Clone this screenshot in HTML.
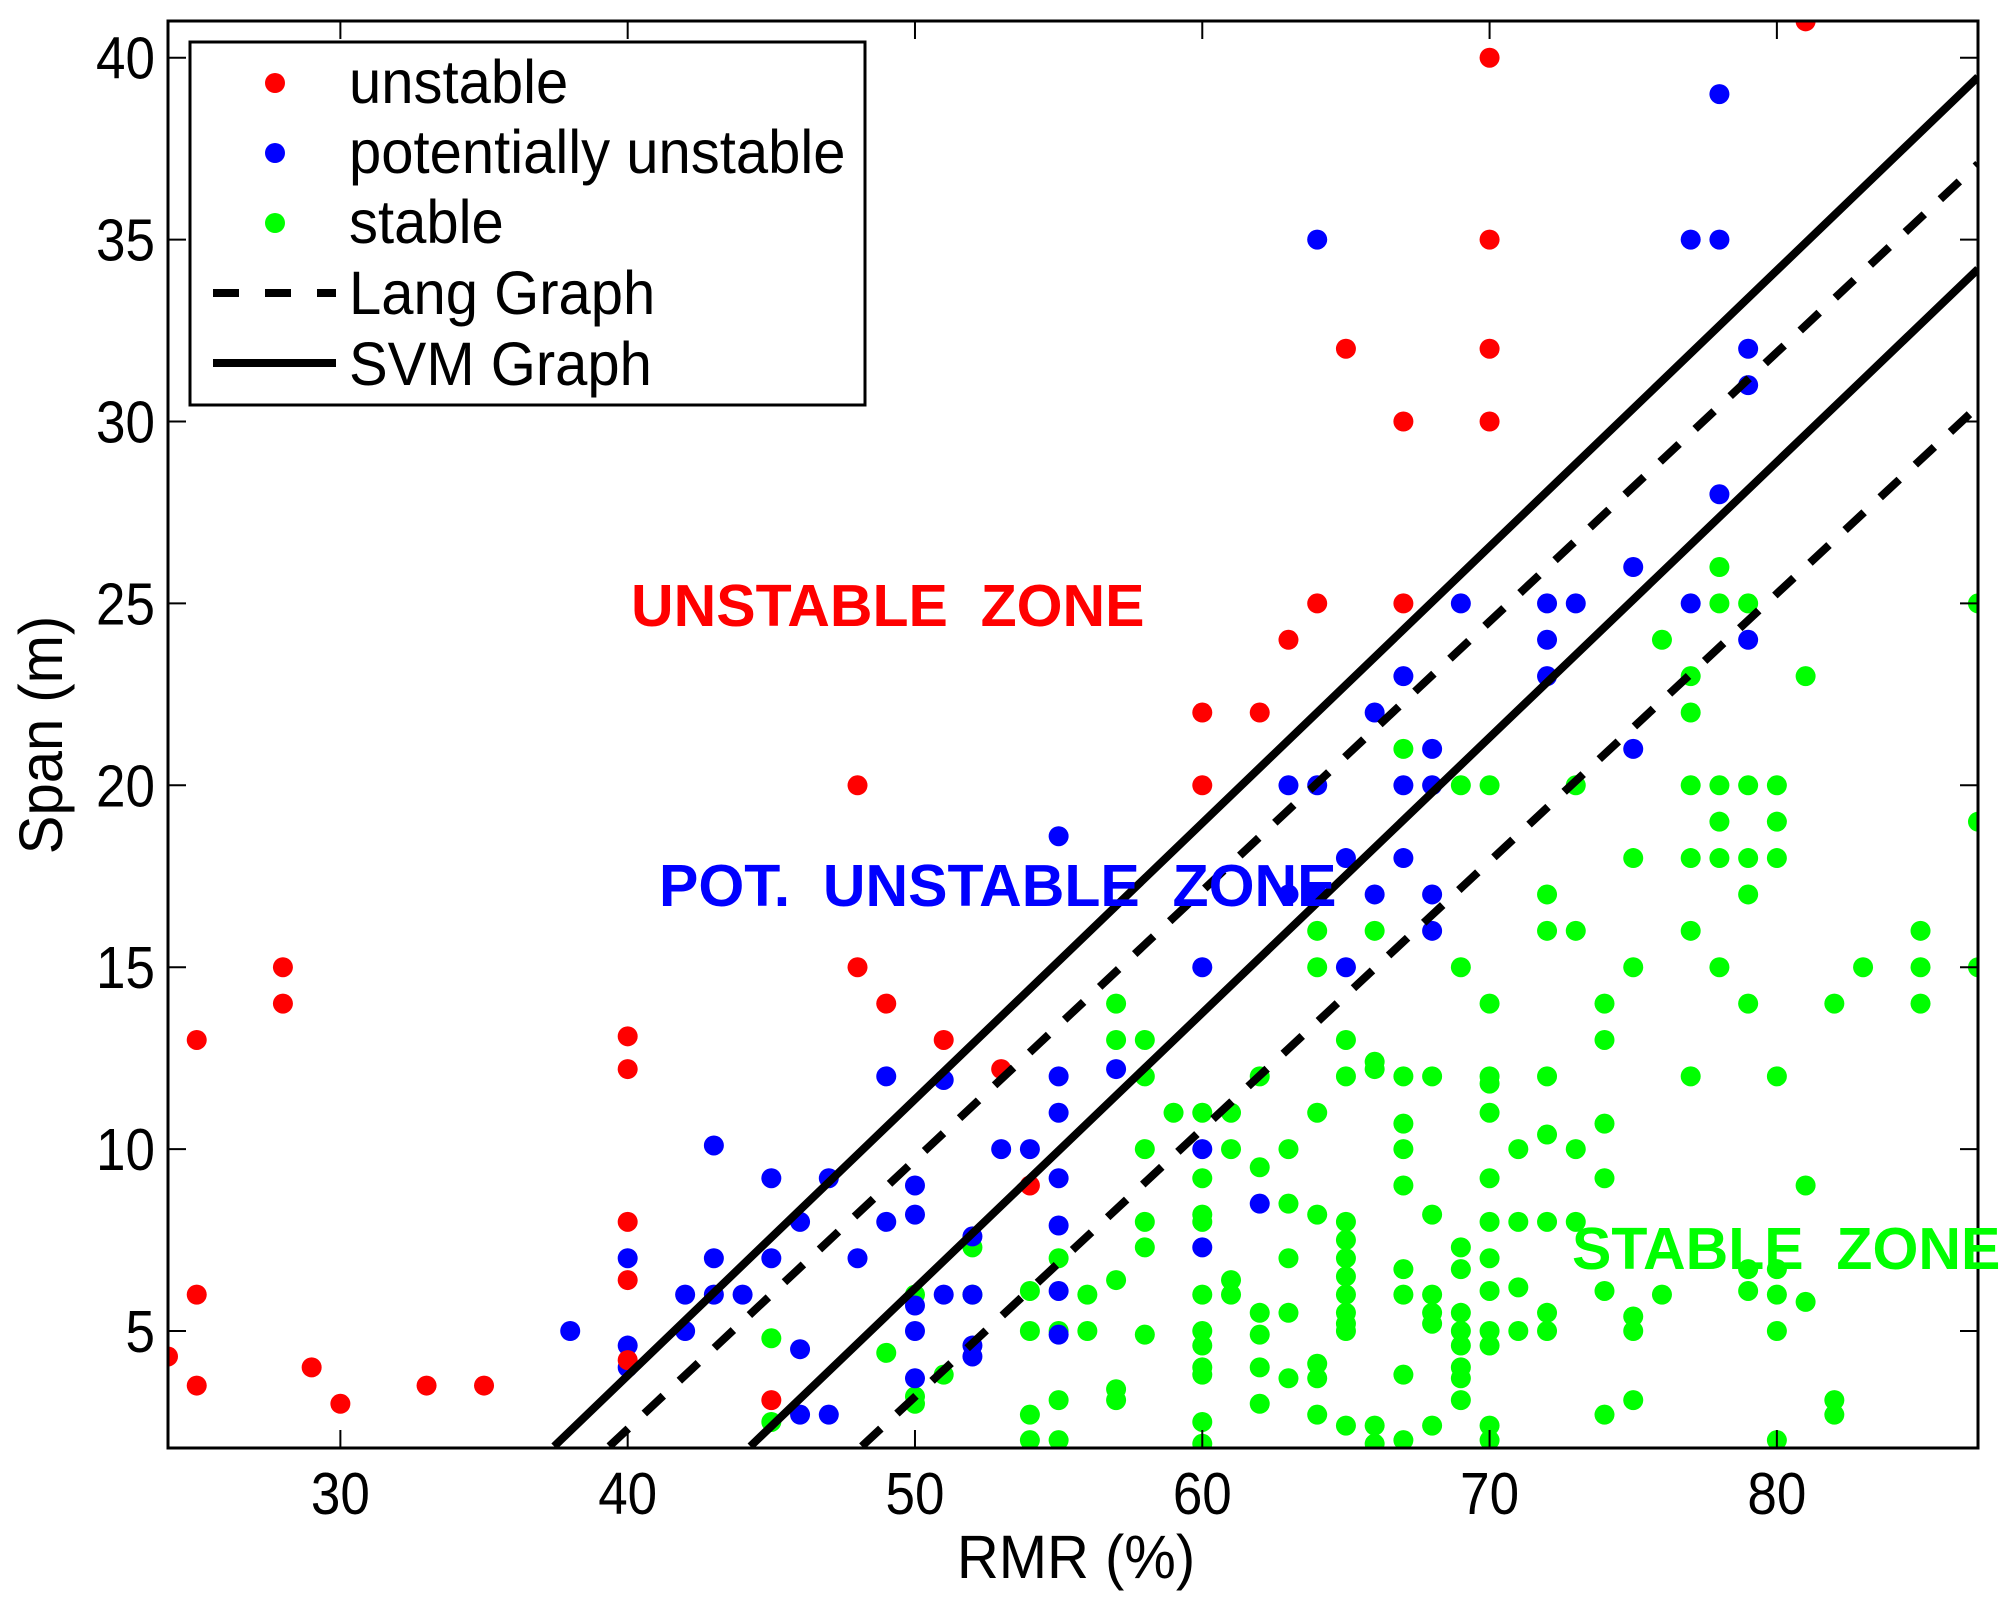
<!DOCTYPE html>
<html><head><meta charset="utf-8"><style>
html,body{margin:0;padding:0;background:#fff;}
svg{display:block;font-family:"Liberation Sans",Arial,sans-serif;}
</style></head><body>
<svg id="chart" width="2011" height="1604" viewBox="0 0 2011 1604" xmlns="http://www.w3.org/2000/svg">
<defs><clipPath id="plotclip"><rect x="168" y="21" width="1810" height="1427"/></clipPath></defs>
<g id="marks" clip-path="url(#plotclip)"></g>
<g id="axes"></g>
<text x="631" y="626" font-size="59" font-weight="bold" fill="#ff0000">UNSTABLE&#160; ZONE</text>
<text x="659" y="906" font-size="59" font-weight="bold" fill="#0000ff">POT.&#160; UNSTABLE&#160; ZONE</text>
<text x="1572" y="1269" font-size="59" font-weight="bold" fill="#00ff00">STABLE&#160; ZONE</text>
<text x="0" y="0" font-size="58" text-anchor="middle" transform="translate(1076,1578) scale(1,1.06)">RMR (%)</text>
<text x="0" y="0" font-size="58" text-anchor="middle" transform="translate(62,735) rotate(-90) scale(1,1.06)">Span (m)</text>
<g>
<rect x="190" y="42" width="675" height="363" fill="#fff" stroke="#000" stroke-width="3"/>
<circle cx="275" cy="83" r="10" fill="#ff0000"/><text x="0" y="0" font-size="58" transform="translate(349,103) scale(1,1.05)">unstable</text>
<circle cx="275" cy="153" r="10" fill="#0000ff"/><text x="0" y="0" font-size="58" transform="translate(349,173) scale(1,1.05)">potentially unstable</text>
<circle cx="275" cy="223" r="10" fill="#00ff00"/><text x="0" y="0" font-size="58" transform="translate(349,243) scale(1,1.05)">stable</text>
<line x1="213" y1="293" x2="336" y2="293" stroke="#000" stroke-width="8" stroke-dasharray="26,26"/><text x="0" y="0" font-size="58" transform="translate(349,314) scale(1,1.05)">Lang Graph</text>
<line x1="213" y1="363" x2="336" y2="363" stroke="#000" stroke-width="8"/><text x="0" y="0" font-size="58" transform="translate(349,385) scale(1,1.05)">SVM Graph</text>
</g>
</svg>
<script>
const xTicks=[30,40,50,60,70,80];
const yTicks=[5,10,15,20,25,30,35,40];
const unstableX=[24,25,25,25,28,28,29,30,33,35,40,40,40,40,40,45,48,48,49,51,53,54,60,60,62,63,64,65,67,67,70,70,70,70,81];
const unstableY=[4.3,13,6,3.5,15,14,4,3,3.5,3.5,13.1,12.2,8,6.4,4.2,3.1,20,15,14,13,12.2,9,22,20,22,24,25,32,30,25,40,35,32,30,41];
const potX=[38,40,40,40,42,42,43,43,43,44,45,45,46,46,46,47,47,48,49,49,50,50,50,50,50,51,51,52,52,52,52,53,54,55,55,55,55,55,55,55,57,60,60,60,62,63,63,64,64,64,65,65,66,66,67,67,67,68,68,68,68,69,72,72,72,73,75,75,77,77,78,78,78,79,79,79];
const potY=[5,7,4.6,4,6,5,10.1,7,6,6,9.2,7,8,4.5,2.7,9.2,2.7,7,12,8,9,8.2,5.7,5,3.7,11.9,6,7.6,6,4.6,4.3,10,10,18.6,12,11,9.2,7.9,6.1,4.9,12.2,15,10,7.3,8.5,20,17,35,20,17,18,15,22,17,23,20,18,21,20,17,16,25,25,24,23,25,26,21,35,25,39,35,28,32,31,24];
const stableX=[45,45,49,50,50,50,51,52,52,54,54,54,54,55,55,55,55,56,56,57,57,57,57,57,58,58,58,58,58,58,59,60,60,60,60,60,60,60,60,60,60,60,61,61,61,61,62,62,62,62,62,62,63,63,63,63,63,64,64,64,64,64,64,64,65,65,65,65,65,65,65,65,65,65,65,66,66,66,66,66,67,67,67,67,67,67,67,67,67,68,68,68,68,68,68,69,69,69,69,69,69,69,69,69,69,70,70,70,70,70,70,70,70,70,70,70,70,70,71,71,71,71,72,72,72,72,72,72,72,73,73,73,73,74,74,74,74,74,74,75,75,75,75,75,76,76,77,77,77,77,77,77,78,78,78,78,78,78,79,79,79,79,79,79,79,80,80,80,80,80,80,80,80,81,81,81,82,82,82,83,85,85,85,87,87,87];
const stableY=[4.8,2.5,4.4,6,3.2,3,3.8,7.3,6,6.1,5,2.7,2,7,5,3.1,2,6,5,14,13,6.4,3.4,3.1,13,12,10,8,7.3,4.9,11,11,9.2,8.2,8,6,5,4.6,4,3.8,2.5,1.9,11,10,6.4,6,12,9.5,5.5,4.9,4,3,10,8.5,7,5.5,3.7,16,15,11,8.2,4.1,3.7,2.7,13,12,8,7.5,7,6.5,6,5.5,5.2,5,2.4,16,12.4,12.2,2.4,1.9,21,12,10.7,10,9,6.7,6,3.8,2,12,8.2,6,5.5,5.2,2.4,20,15,7.3,6.7,5.5,5,4.6,4,3.7,3.1,20,14,12,11.8,11,9.2,8,7,6.1,5,4.6,2.4,2,10,8,6.2,5,17,16,12,10.4,8,5.5,5,20,16,10,8,14,13,10.7,9.2,6.1,2.7,18,15,5.4,5,3.1,24,6,23,22,20,18,16,12,26,25,20,19,18,15,25,20,18,17,14,6.7,6.1,20,19,18,12,6.7,6,5,2,23,9,5.8,14,3.1,2.7,15,16,15,14,25,19,15];
const svmX=[[37.44,87],[44.27,87]];
const svmY=[[1.83,39.47],[1.83,34.19]];
const langX=[[39.36,87],[48.15,87]];
const langY=[[1.83,37.08],[1.83,30.42]];

const NS="http://www.w3.org/2000/svg";
const X=v=>168+(v-24)*28.73;
const Y=v=>57.7+(40-v)*36.38;
const marks=document.getElementById('marks');
const axes=document.getElementById('axes');
function mk(tag,attrs,parent){const e=document.createElementNS(NS,tag);for(const k in attrs)e.setAttribute(k,attrs[k]);parent.appendChild(e);return e;}
function dots(xs,ys,color,name){for(let i=0;i<xs.length;i++){const c=mk('circle',{cx:X(xs[i]),cy:Y(ys[i]),r:10,fill:color},marks);

}}
dots(stableX,stableY,'#00ff00','stable-point');
dots(potX,potY,'#0000ff','potentially-unstable-point');
dots(unstableX,unstableY,'#ff0000','unstable-point');
for(let i=0;i<langX.length;i++){const l=mk('line',{x1:X(langX[i][0]),y1:Y(langY[i][0]),x2:X(langX[i][1]),y2:Y(langY[i][1]),stroke:'#000','stroke-width':8,'stroke-dasharray':'26,22'},marks);

}
for(let i=0;i<svmX.length;i++){const l=mk('line',{x1:X(svmX[i][0]),y1:Y(svmY[i][0]),x2:X(svmX[i][1]),y2:Y(svmY[i][1]),stroke:'#000','stroke-width':8},marks);

}
const frame=mk('rect',{x:168,y:21,width:1810,height:1427,fill:'none',stroke:'#000','stroke-width':3},axes);


xTicks.forEach(t=>{const x=X(t);
mk('line',{x1:x,y1:1448,x2:x,y2:1430,stroke:'#000','stroke-width':2},axes);
mk('line',{x1:x,y1:21,x2:x,y2:39,stroke:'#000','stroke-width':2},axes);
const tx=mk('text',{x:0,y:0,'font-size':53,'text-anchor':'middle',transform:'translate('+x+',1514) scale(1,1.12)'},axes);tx.textContent=t;

});
yTicks.forEach(t=>{const y=Y(t);
mk('line',{x1:168,y1:y,x2:186,y2:y,stroke:'#000','stroke-width':2},axes);
mk('line',{x1:1978,y1:y,x2:1960,y2:y,stroke:'#000','stroke-width':2},axes);
const tx=mk('text',{x:0,y:0,'font-size':53,'text-anchor':'end',transform:'translate(155,'+(y+21)+') scale(1,1.12)'},axes);tx.textContent=t;

});
</script>
</body></html>
